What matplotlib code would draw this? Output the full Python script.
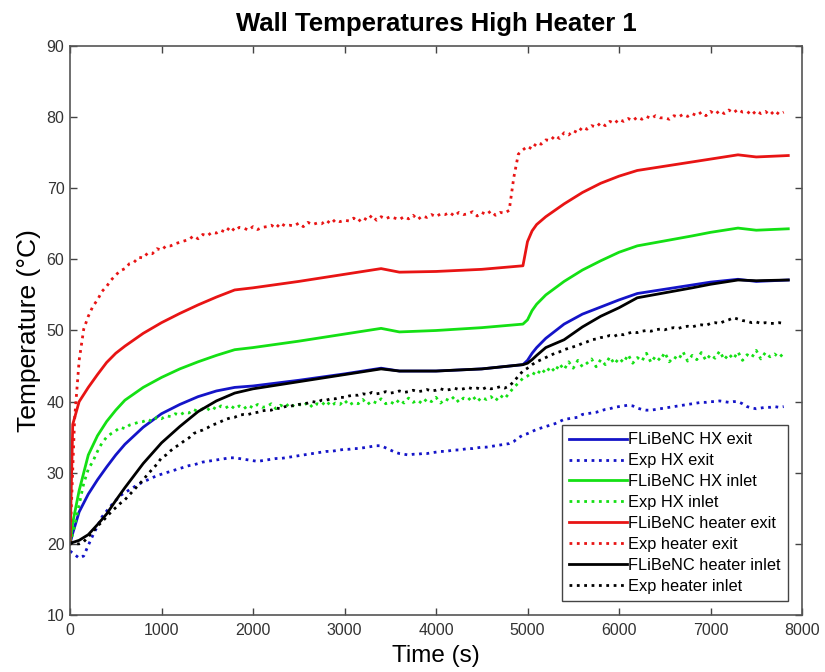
import matplotlib
matplotlib.use("Agg")
import matplotlib.pyplot as plt

plt.rcParams['font.family'] = ['Liberation Sans', 'DejaVu Sans']

# ---------------- data ----------------
t_model = [0, 30, 100, 200, 300, 400, 500, 600, 800, 1000, 1200, 1400, 1600, 1800,
           2000, 2500, 3000, 3400, 3600, 4000, 4500, 4950, 5000, 5050, 5100, 5200,
           5400, 5600, 5800, 6000, 6200, 6500, 6800, 7000, 7300, 7500, 7850]

hx_exit_model = [20.0, 21.5, 24.5, 27.0, 29.0, 30.8, 32.5, 34.0, 36.4, 38.3, 39.6, 40.7,
                 41.5, 42.0, 42.2, 43.0, 43.9, 44.7, 44.3, 44.3, 44.6, 45.2, 45.8, 46.8,
                 47.6, 48.9, 50.9, 52.3, 53.3, 54.3, 55.2, 55.8, 56.4, 56.8, 57.2, 56.9, 57.1]

hx_inlet_model = [20.0, 23.0, 27.5, 32.5, 35.2, 37.2, 38.8, 40.2, 42.0, 43.4, 44.6, 45.6,
                  46.5, 47.3, 47.6, 48.5, 49.5, 50.3, 49.8, 50.0, 50.4, 50.9, 51.5, 52.8,
                  53.7, 55.0, 56.9, 58.5, 59.8, 61.0, 61.9, 62.6, 63.3, 63.8, 64.4, 64.1, 64.3]

heater_exit_model = [20.0, 36.8, 40.0, 42.0, 43.8, 45.5, 46.8, 47.8, 49.6, 51.1, 52.4, 53.6,
                     54.7, 55.7, 56.0, 56.9, 57.9, 58.7, 58.2, 58.3, 58.6, 59.1, 62.5, 64.0,
                     64.9, 66.0, 67.8, 69.4, 70.7, 71.7, 72.5, 73.1, 73.7, 74.1, 74.7, 74.4, 74.6]

heater_inlet_model = [20.0, 20.2, 20.5, 21.3, 22.7, 24.2, 26.1, 27.9, 31.3, 34.2, 36.5, 38.6,
                      40.1, 41.2, 41.8, 42.8, 43.8, 44.6, 44.3, 44.3, 44.6, 45.2, 45.4, 45.9,
                      46.5, 47.6, 48.7, 50.5, 52.0, 53.2, 54.6, 55.3, 56.0, 56.5, 57.1, 57.0, 57.1]

# experimental samples every 50 s, 0 ... 7800 s (157 samples, 16 per row)
t_exp = list(range(0, 7850, 50))

heater_exit_exp = [
    20.0, 37.5, 45.8, 50.2, 52.0, 53.4, 54.3, 55.5, 56.2, 57.1, 57.8, 58.4, 58.7, 59.4, 59.6, 60.3,
    60.2, 60.9, 60.8, 61.5, 61.3, 61.9, 61.9, 62.2, 62.4, 62.6, 62.8, 63.3, 62.9, 63.5, 63.3, 63.8,
    63.7, 64.1, 63.8, 64.6, 64.0, 64.5, 64.4, 64.1, 64.6, 64.2, 64.5, 64.6, 64.8, 64.4, 65.1, 64.7,
    64.8, 64.7, 65.1, 64.6, 65.2, 64.9, 65.1, 65.0, 65.5, 65.0, 65.6, 65.3, 65.5, 65.4, 65.8, 65.3,
    65.9, 65.5, 66.2, 65.5, 66.0, 65.7, 66.0, 65.8, 65.6, 66.0, 65.7, 66.2, 65.6, 66.1, 65.9, 66.3,
    66.0, 66.4, 66.3, 66.6, 66.1, 66.6, 66.3, 66.4, 66.7, 66.1, 66.6, 66.3, 66.8, 66.2, 66.6, 66.5,
    66.9, 71.5, 74.8, 75.4, 75.9, 75.5, 76.4, 76.2, 76.8, 76.7, 77.4, 77.0, 77.8, 77.5, 78.1, 77.8,
    78.6, 78.3, 78.8, 78.6, 79.2, 78.8, 79.4, 79.1, 79.7, 79.4, 79.8, 79.5, 80.0, 79.7, 80.1, 79.8,
    80.2, 79.9, 79.9, 79.7, 80.2, 80.0, 80.4, 80.1, 80.5, 80.2, 80.7, 80.2, 80.8, 80.4, 80.9, 80.5,
    81.0, 80.6, 81.1, 80.7, 80.8, 80.3, 80.9, 80.5, 80.8, 80.3, 80.9, 80.4, 80.7]

hx_inlet_exp = [
    20.0, 22.5, 25.5, 28.5, 30.5, 31.6, 33.0, 34.2, 35.0, 35.5, 35.9, 36.4, 36.2, 36.7, 36.9, 37.1,
    37.2, 37.5, 37.2, 37.8, 37.6, 38.0, 37.9, 38.3, 38.1, 38.5, 38.4, 38.9, 38.6, 39.0, 38.8, 39.3,
    38.9, 39.4, 39.1, 39.5, 39.0, 39.4, 39.0, 39.5, 39.1, 39.6, 39.2, 39.3, 39.7, 39.0, 39.5, 39.2,
    39.8, 39.3, 39.6, 39.4, 39.9, 39.2, 39.7, 39.5, 40.1, 39.4, 39.8, 39.6, 40.2, 39.5, 39.9, 39.7,
    40.3, 39.6, 40.1, 39.8, 40.4, 39.7, 40.0, 39.6, 40.3, 39.8, 40.5, 39.9, 40.2, 39.7, 40.4, 40.0,
    40.6, 39.8, 40.4, 40.1, 40.7, 39.9, 40.5, 40.2, 40.8, 40.0, 40.6, 40.3, 40.7, 40.1, 40.9, 40.4,
    41.2, 42.0, 42.6, 43.3, 43.6, 44.1, 43.7, 44.6, 44.0, 44.9, 44.2, 45.3, 44.5, 45.6, 44.7, 45.8,
    44.9, 45.4, 46.0, 44.9, 45.9, 45.2, 46.3, 45.3, 46.1, 45.5, 46.6, 45.4, 46.2, 45.7, 46.8, 45.5,
    46.4, 45.8, 46.9, 45.6, 46.3, 45.9, 47.0, 45.7, 46.5, 45.9, 46.9, 45.8, 46.6, 46.1, 47.1, 45.9,
    46.7, 46.0, 47.0, 45.8, 46.6, 46.2, 47.2, 46.0, 46.9, 46.3, 46.7, 46.2, 46.8]

hx_exit_exp = [
    19.0, 18.5, 18.0, 18.3, 19.8, 21.2, 22.5, 23.8, 24.6, 25.4, 26.1, 26.8, 27.2, 27.6, 28.0, 28.4,
    28.7, 29.0, 29.3, 29.6, 29.8, 30.0, 30.2, 30.4, 30.6, 30.8, 31.0, 31.1, 31.3, 31.5, 31.6, 31.7,
    31.8, 31.9, 32.0, 32.1, 32.1, 32.0, 31.9, 31.8, 31.7, 31.6, 31.7, 31.8, 31.9, 32.0, 32.0, 32.1,
    32.2, 32.3, 32.4, 32.5, 32.6, 32.7, 32.8, 32.9, 33.0, 33.0, 33.1, 33.2, 33.3, 33.3, 33.4, 33.4,
    33.5, 33.6, 33.7, 33.8, 33.8, 33.5, 33.2, 32.9, 32.7, 32.6, 32.5, 32.6, 32.6, 32.7, 32.7, 32.8,
    32.9, 33.0, 33.0, 33.1, 33.2, 33.2, 33.3, 33.4, 33.4, 33.5, 33.6, 33.6, 33.7, 33.8, 33.9, 34.0,
    34.1, 34.4, 34.9, 35.3, 35.5, 35.8, 36.1, 36.3, 36.5, 36.7, 36.9, 37.2, 37.5, 37.6, 37.7, 37.8,
    38.2, 38.3, 38.4, 38.5, 38.7, 38.9, 39.0, 39.2, 39.3, 39.4, 39.5, 39.4, 39.1, 38.9, 38.8, 38.8,
    38.9, 39.0, 39.1, 39.2, 39.3, 39.4, 39.5, 39.6, 39.7, 39.8, 39.9, 39.9, 40.0, 40.0, 40.1, 40.0,
    39.9, 40.0, 40.0, 39.7, 39.3, 39.1, 39.0, 39.1, 39.2, 39.2, 39.3, 39.2, 39.3]

heater_inlet_exp = [
    20.2, 20.0, 20.0, 20.3, 21.0, 21.7, 22.5, 23.1, 23.8, 24.5, 25.1, 25.7, 26.2, 26.9, 27.6, 28.3,
    29.0, 29.8, 30.5, 31.2, 32.1, 32.5, 33.1, 33.6, 34.0, 34.5, 34.9, 35.5, 35.8, 36.0, 36.3, 36.7,
    36.9, 37.2, 37.5, 37.7, 37.8, 38.1, 38.2, 38.2, 38.4, 38.5, 38.7, 38.8, 38.8, 39.1, 39.0, 39.3,
    39.3, 39.5, 39.6, 39.7, 39.8, 40.0, 39.9, 40.2, 40.2, 40.4, 40.4, 40.6, 40.6, 40.8, 40.9, 40.9,
    41.1, 41.0, 41.3, 41.1, 41.2, 41.4, 41.2, 41.3, 41.5, 41.3, 41.4, 41.6, 41.4, 41.5, 41.7, 41.5,
    41.6, 41.8, 41.6, 41.7, 41.9, 41.7, 41.8, 42.0, 41.8, 41.9, 41.7, 42.0, 41.8, 41.9, 42.1, 41.9,
    42.2, 42.8, 43.6, 44.3, 44.7, 45.2, 45.6, 45.9, 46.2, 46.5, 46.8, 47.0, 47.3, 47.5, 47.7, 47.9,
    48.2, 48.4, 48.7, 48.8, 49.0, 49.1, 49.3, 49.2, 49.5, 49.4, 49.6, 49.8, 49.7, 49.9, 50.0, 49.9,
    50.1, 50.2, 50.1, 50.3, 50.4, 50.3, 50.5, 50.6, 50.5, 50.7, 50.8, 50.7, 51.0, 51.1, 51.0, 51.3,
    51.5, 51.8, 51.6, 51.4, 51.3, 51.1, 51.2, 51.0, 51.1, 51.0, 51.0, 51.1, 51.0]

labels = ['FLiBeNC HX exit', 'Exp HX exit', 'FLiBeNC HX inlet', 'Exp HX inlet',
          'FLiBeNC heater exit', 'Exp heater exit', 'FLiBeNC heater inlet', 'Exp heater inlet']

title = 'Wall Temperatures High Heater 1'
xlabel = 'Time (s)'
ylabel = 'Temperature (\u00b0C)'
xticks = [0, 1000, 2000, 3000, 4000, 5000, 6000, 7000, 8000]
yticks = [10, 20, 30, 40, 50, 60, 70, 80, 90]

# ---------------- plot ----------------
BLUE = '#1414c8'
GREEN = '#14e014'
RED = '#e81414'
BLACK = '#000000'

fig = plt.figure(figsize=(8.25, 6.72), dpi=100)
ax = fig.add_axes([70 / 825, 1 - 615 / 672, (802 - 70) / 825, (615 - 46) / 672])

series = [
    (t_model, hx_exit_model, BLUE, '-'),
    (t_exp, hx_exit_exp, BLUE, ':'),
    (t_model, hx_inlet_model, GREEN, '-'),
    (t_exp, hx_inlet_exp, GREEN, ':'),
    (t_model, heater_exit_model, RED, '-'),
    (t_exp, heater_exit_exp, RED, ':'),
    (t_model, heater_inlet_model, BLACK, '-'),
    (t_exp, heater_inlet_exp, BLACK, ':'),
]
for (tt, yy, c, ls), lab in zip(series, labels):
    n = min(len(tt), len(yy))
    ax.plot(tt[:n], yy[:n], color=c, linestyle=ls, linewidth=2.0, label=lab)

ax.set_xlim(0, 8000)
ax.set_ylim(10, 90)
ax.set_xticks(xticks)
ax.set_yticks(yticks)
ax.tick_params(direction='in', top=True, right=True, length=5, width=1,
               labelsize=11.5, colors='#444444', labelcolor='#333333')
ax.tick_params(axis='x', pad=6)
ax.tick_params(axis='y', pad=4)
for s in ax.spines.values():
    s.set_color('#555555')
    s.set_linewidth(1.2)

ax.set_title(title, fontsize=18.5, fontweight='bold', pad=11)
ax.set_xlabel(xlabel, fontsize=17.5, labelpad=5)
ax.set_ylabel(ylabel, fontsize=19, labelpad=4)

leg = ax.legend(loc='lower right', fontsize=11.8, frameon=True, fancybox=False,
                edgecolor='#444444', framealpha=1, handlelength=3.5, handletextpad=0.1,
                labelspacing=0.36, borderpad=0.45, borderaxespad=0.85)
leg.get_frame().set_linewidth(1.0)

fig.savefig('out.png', dpi=100)
